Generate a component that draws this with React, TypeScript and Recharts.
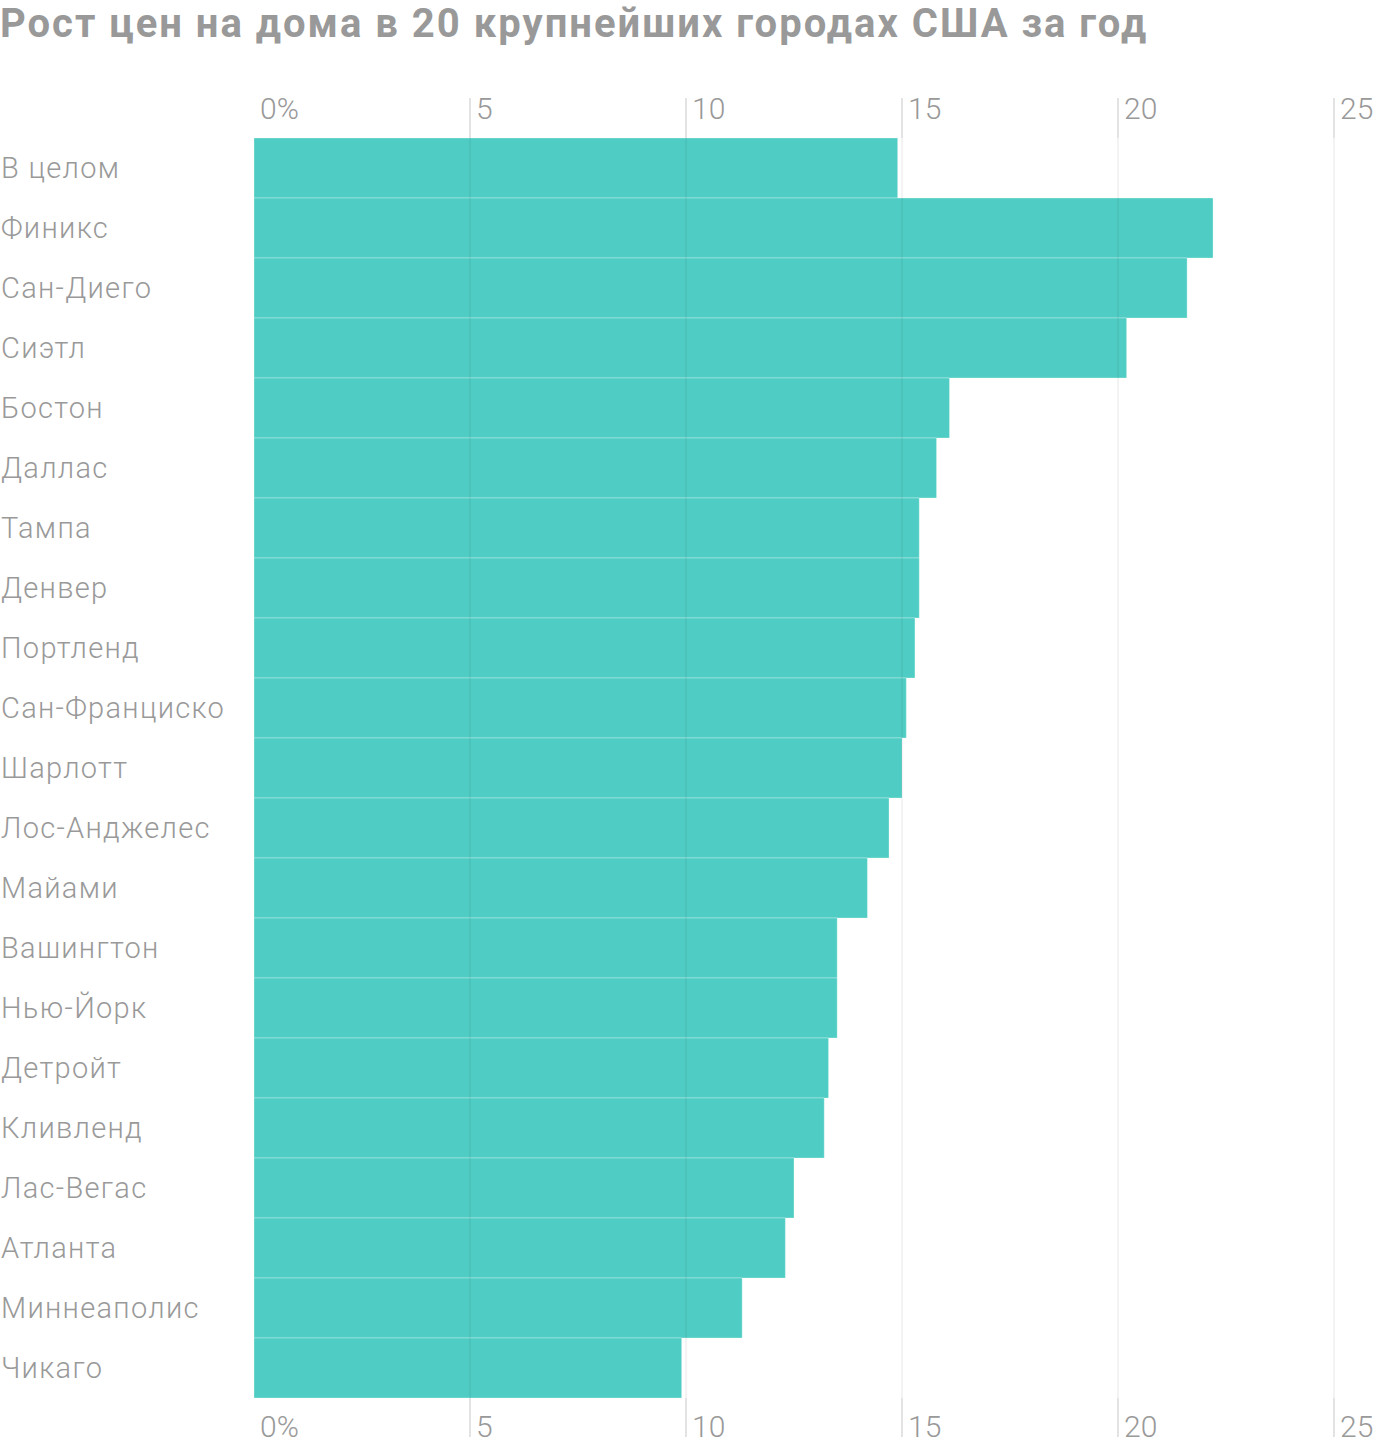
import { BarChart, Bar, XAxis, YAxis } from 'recharts';

const cities = [
  'В целом', 'Финикс', 'Сан-Диего', 'Сиэтл', 'Бостон', 'Даллас', 'Тампа',
  'Денвер', 'Портленд', 'Сан-Франциско', 'Шарлотт', 'Лос-Анджелес', 'Майами',
  'Вашингтон', 'Нью-Йорк', 'Детройт', 'Кливленд', 'Лас-Вегас', 'Атланта',
  'Миннеаполис', 'Чикаго',
];
const growth = [
  14.9, 22.2, 21.6, 20.2, 16.1, 15.8, 15.4, 15.4, 15.3, 15.1, 15.0, 14.7, 14.2,
  13.5, 13.5, 13.3, 13.2, 12.5, 12.3, 11.3, 9.9,
];
const ticks = [0, 5, 10, 15, 20, 25];
const tickLabels = ['0%', '5', '10', '15', '20', '25'];

const TITLE = 'Рост цен на дома в 20 крупнейших городах США за год';
const GREY = '#999999';
const TEAL = '#4fcdc4';
const FONT = 'Roboto, "Noto Sans", sans-serif';

const W = 1400;
const H = 1448;
const PLOT_TOP = 138;
const PLOT_BOTTOM = 1398;
const AXIS_H = 40;
const GRID_TOP = 98;
const GRID_BOTTOM = 1437;

const data = cities.map((city, i) => ({ city, value: growth[i] }));

// top axis tick also draws the gridline and the matching bottom label
function GridTick(props: any) {
  const { x, payload } = props;
  const i = ticks.indexOf(payload.value);
  const text = { fill: GREY, fontSize: 30, fontWeight: 300, fontFamily: FONT };
  return (
    <g>
      {payload.value !== 0 && (
        <>
          <line x1={x} x2={x} y1={GRID_TOP} y2={PLOT_TOP} stroke="rgba(0,0,0,0.11)" strokeWidth={2} />
          <line x1={x} x2={x} y1={PLOT_TOP} y2={PLOT_BOTTOM} stroke="rgba(0,0,0,0.1)" strokeWidth={2} strokeOpacity={0.45} />
          <line x1={x} x2={x} y1={PLOT_BOTTOM} y2={GRID_BOTTOM} stroke="rgba(0,0,0,0.11)" strokeWidth={2} />
        </>
      )}
      <text x={x + 6} y={119} {...text}>{tickLabels[i]}</text>
      <text x={x + 6} y={1437} {...text}>{tickLabels[i]}</text>
    </g>
  );
}

function CityTick(props: any) {
  const { y, payload } = props;
  return (
    <text
      x={1}
      y={y}
      dy={10}
      fill={GREY}
      fontSize={29}
      fontWeight={300}
      letterSpacing={1.3}
      fontFamily={FONT}
      textAnchor="start"
    >
      {payload.value}
    </text>
  );
}

export default function App() {
  return (
    <div style={{ position: 'absolute', left: 0, top: 0, width: W, height: H, background: '#fff' }}>
      <div
        style={{
          position: 'absolute',
          left: 0,
          top: 4,
          fontFamily: FONT,
          fontWeight: 700,
          fontSize: 40,
          letterSpacing: 2,
          lineHeight: '40px',
          color: GREY,
          whiteSpace: 'nowrap',
        }}
      >
        {TITLE}
      </div>
      <BarChart
        width={W}
        height={H}
        data={data}
        layout="vertical"
        barCategoryGap={0}
        margin={{ top: PLOT_TOP - AXIS_H, bottom: H - PLOT_BOTTOM, left: 0, right: 66 }}
      >
        <YAxis
          type="category"
          dataKey="city"
          width={254}
          axisLine={false}
          tickLine={false}
          tick={<CityTick />}
          interval={0}
        />
        <Bar
          dataKey="value"
          xAxisId="top"
          fill={TEAL}
          stroke="rgba(255,255,255,0.3)"
          strokeWidth={1}
          isAnimationActive={false}
        />
        <XAxis
          xAxisId="top"
          orientation="top"
          type="number"
          domain={[0, 25]}
          ticks={ticks}
          height={AXIS_H}
          axisLine={false}
          tickLine={false}
          tick={<GridTick />}
        />
      </BarChart>
    </div>
  );
}
